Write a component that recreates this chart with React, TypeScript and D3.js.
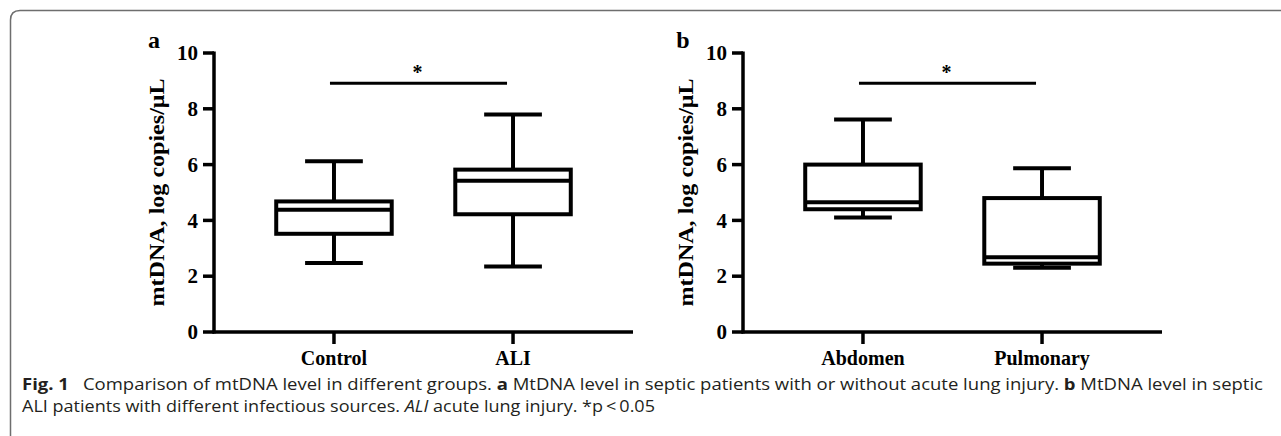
import React from 'react';
import * as d3 from 'd3';

// values (log copies/uL)
const groupsA = ['Control', 'ALI'];
const minA = [2.47, 2.35];
const q1A = [3.52, 4.22];
const medA = [4.38, 5.42];
const q3A = [4.68, 5.82];
const maxA = [6.12, 7.8];

const groupsB = ['Abdomen', 'Pulmonary'];
const minB = [4.1, 2.3];
const q1B = [4.4, 2.45];
const medB = [4.65, 2.68];
const q3B = [6.0, 4.8];
const maxB = [7.62, 5.87];

const sigLevel = 8.92;
const yTicks = [0, 2, 4, 6, 8, 10];
const yTitle = 'mtDNA, log copies/\u03bcL';

const W = 1281;
const H = 436;
const serif = "'Liberation Serif', 'Times New Roman', serif";
const sans = "'Open Sans', 'Noto Sans', sans-serif";

const y = d3.scaleLinear().domain([0, 10]).range([332, 53]);

function Panel({ letter, axisX, groups, mins, q1s, meds, q3s, maxs }) {
  const x = d3.scalePoint().domain(groups).range([axisX, axisX + 419]).padding(0.67);
  const boxW = x.step() * 0.645;
  const capW = boxW / 2;
  const sw = 4;
  const midY = (y(0) + y(10)) / 2;
  return (
    <g>
      <text x={axisX - 60} y={48} fontFamily={serif} fontWeight="bold" fontSize={24} textAnchor="middle">{letter}</text>
      {/* y axis */}
      <line x1={axisX} x2={axisX} y1={y(10) - 1.5} y2={y(0) + 1.5} stroke="#000" strokeWidth={3.5} />
      {yTicks.map(t => (
        <g key={t}>
          <line x1={axisX - 11} x2={axisX} y1={y(t)} y2={y(t)} stroke="#000" strokeWidth={3.5} />
          <text x={axisX - 16} y={y(t)} dy="0.34em" textAnchor="end" fontFamily={serif} fontWeight="bold" fontSize={21}>{t}</text>
        </g>
      ))}
      <text transform={`translate(${axisX - 50},${midY}) rotate(-90)`} textAnchor="middle" fontFamily={serif} fontWeight="bold" fontSize={22}
        textLength={228} lengthAdjust="spacingAndGlyphs">{yTitle}</text>
      {/* x axis */}
      <line x1={axisX - 1.5} x2={axisX + 419} y1={y(0)} y2={y(0)} stroke="#000" strokeWidth={3.5} />
      {groups.map((g, i) => {
        const cx = x(g);
        return (
          <g key={g}>
            <line x1={cx} x2={cx} y1={y(0)} y2={y(0) + 12} stroke="#000" strokeWidth={3.5} />
            <text x={cx} y={365} textAnchor="middle" fontFamily={serif} fontWeight="bold" fontSize={20}>{g}</text>
            {/* whiskers */}
            <line x1={cx} x2={cx} y1={y(maxs[i])} y2={y(q3s[i])} stroke="#000" strokeWidth={sw} />
            <line x1={cx} x2={cx} y1={y(q1s[i])} y2={y(mins[i])} stroke="#000" strokeWidth={sw} />
            <line x1={cx - capW / 2} x2={cx + capW / 2} y1={y(maxs[i])} y2={y(maxs[i])} stroke="#000" strokeWidth={sw} />
            <line x1={cx - capW / 2} x2={cx + capW / 2} y1={y(mins[i])} y2={y(mins[i])} stroke="#000" strokeWidth={sw} />
            <rect x={cx - boxW / 2} y={y(q3s[i])} width={boxW} height={y(q1s[i]) - y(q3s[i])} fill="#fff" stroke="#000" strokeWidth={sw} />
            <line x1={cx - boxW / 2} x2={cx + boxW / 2 + 1} y1={y(meds[i])} y2={y(meds[i])} stroke="#000" strokeWidth={sw} />
          </g>
        );
      })}
      {/* significance bar */}
      <line x1={x(groups[0]) - 4} x2={x(groups[1]) - 6} y1={y(sigLevel)} y2={y(sigLevel)} stroke="#000" strokeWidth={3} />
      <text x={(x(groups[0]) + x(groups[1])) / 2 - 6} y={y(sigLevel) - 4} textAnchor="middle" fontFamily={serif} fontWeight="bold" fontSize={20}>*</text>
    </g>
  );
}

export default function App() {
  return (
    <svg width={W} height={H} style={{ position: 'absolute', left: 0, top: 0, background: '#fff' }}>
      <rect width={W} height={H} fill="#fff" />
      <path d={`M10.5,${H} L10.5,20 Q10.5,10.5 20,10.5 L${W},10.5`} fill="none" stroke="#6e6e6e" strokeWidth={1.5} />
      <Panel letter="a" axisX={214} groups={groupsA} mins={minA} q1s={q1A} meds={medA} q3s={q3A} maxs={maxA} />
      <Panel letter="b" axisX={743} groups={groupsB} mins={minB} q1s={q1B} meds={medB} q3s={q3B} maxs={maxB} />
      <text x={22} y={390} fontFamily={sans} fontSize={16.5} fill="#231f20" textLength={1241} lengthAdjust="spacingAndGlyphs">
        <tspan fontWeight="bold">Fig. 1</tspan>
        <tspan>{'\u2002 Comparison of mtDNA level in different groups. '}</tspan>
        <tspan fontWeight="bold">a</tspan>
        <tspan>{' MtDNA level in septic patients with or without acute lung injury. '}</tspan>
        <tspan fontWeight="bold">b</tspan>
        <tspan>{' MtDNA level in septic'}</tspan>
      </text>
      <text x={22} y={412} fontFamily={sans} fontSize={16.5} fill="#231f20" textLength={633} lengthAdjust="spacingAndGlyphs">
        <tspan>{'ALI patients with different infectious sources. '}</tspan>
        <tspan fontStyle="italic">ALI</tspan>
        <tspan>{' acute lung injury. *p\u2009<\u20090.05'}</tspan>
      </text>
    </svg>
  );
}
